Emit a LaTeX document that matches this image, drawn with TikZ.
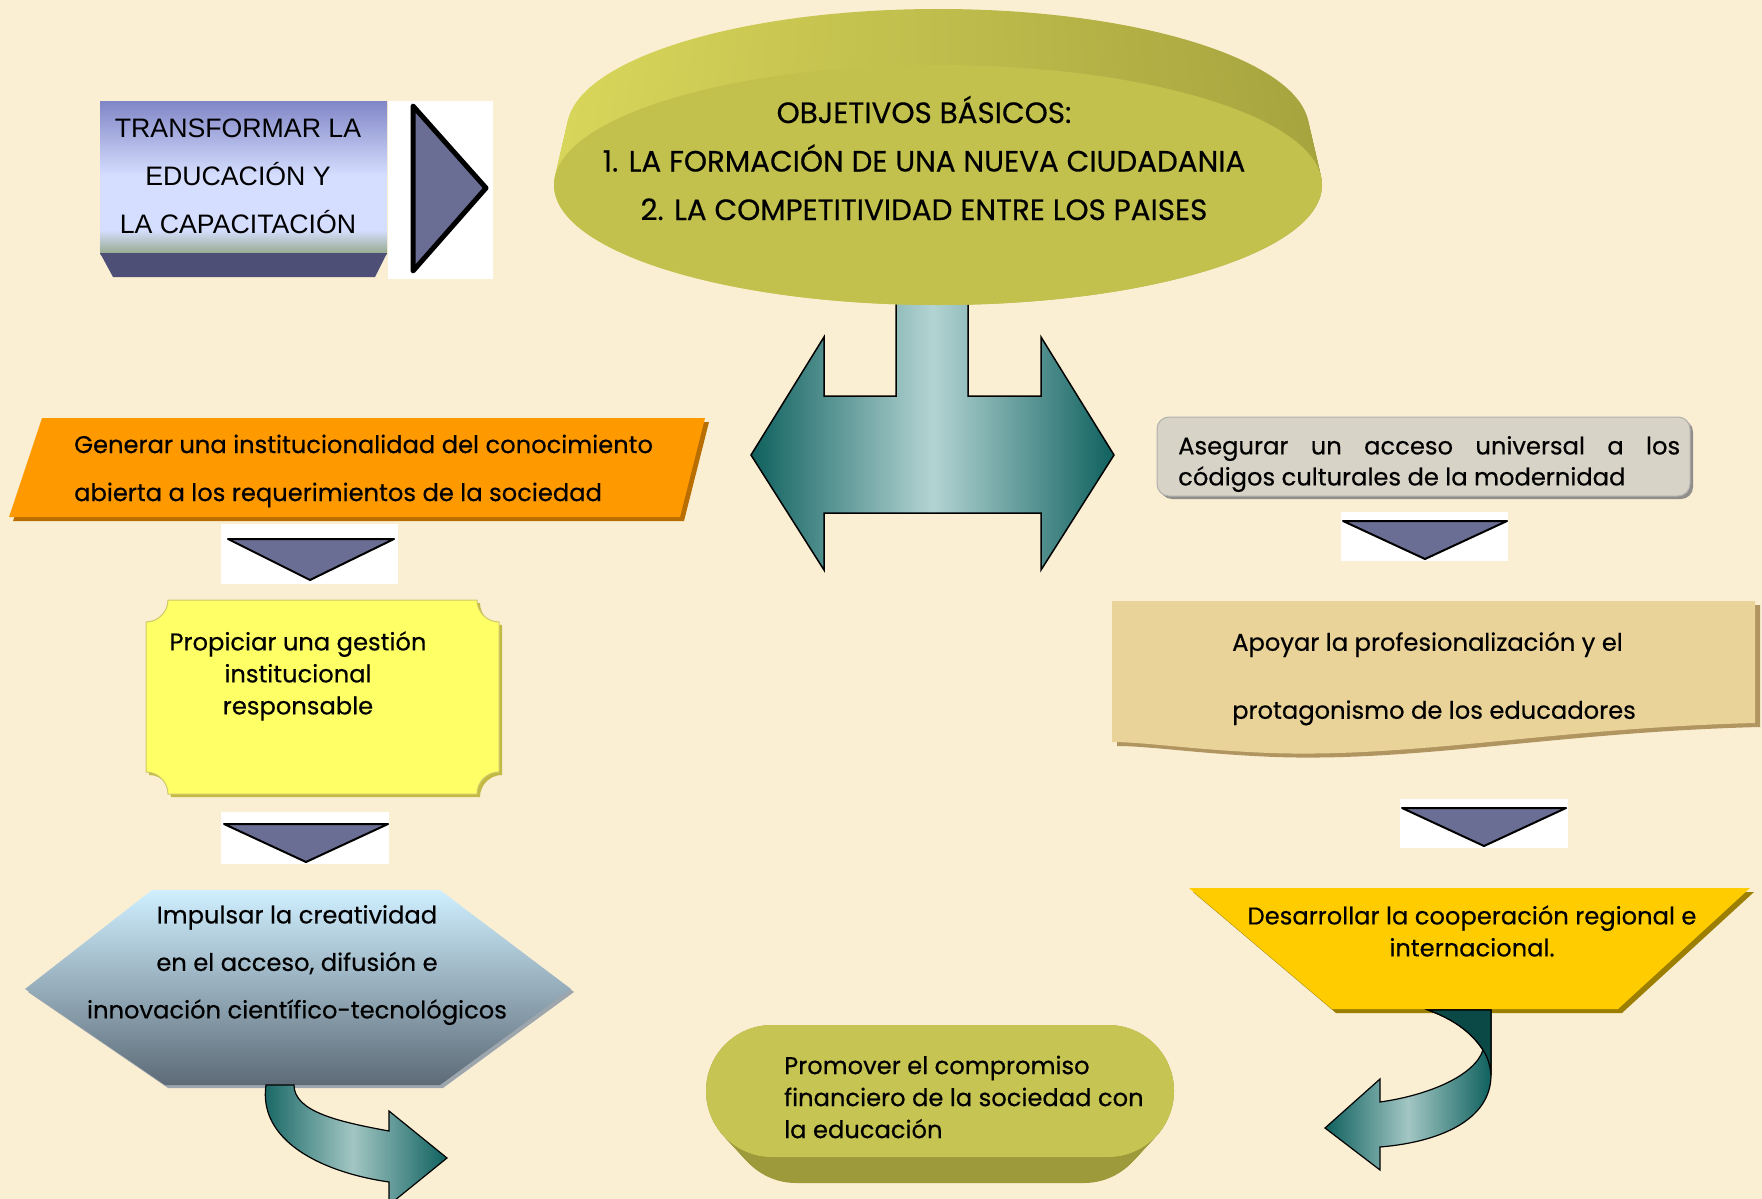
\documentclass[tikz,border=0pt]{standalone}
\usepackage{fontspec}
\setmainfont{Liberation Sans}
\newfontfamily\comic{Poppins}[FakeBold=0.4]
\usetikzlibrary{calc}
\definecolor{bg}{HTML}{FBEFD3}
\definecolor{olface}{HTML}{C3C14E}
\definecolor{olside}{HTML}{A6A43E}
\definecolor{olsidel}{HTML}{D8D65A}
\definecolor{orangef}{HTML}{FF9900}
\definecolor{orangesh}{HTML}{B86E00}
\definecolor{yelf}{HTML}{FFFF66}
\definecolor{yelsh}{HTML}{C2BA45}
\definecolor{grayf}{HTML}{D7D3C7}
\definecolor{graysh}{HTML}{8F8E8A}
\definecolor{papf}{HTML}{E9D398}
\definecolor{papsh}{HTML}{B09560}
\definecolor{goldf}{HTML}{FFCC00}
\definecolor{goldsh}{HTML}{9C7E00}
\definecolor{tealdark}{HTML}{0F615F}
\definecolor{teallight}{HTML}{B3D4D3}
\definecolor{tealmid}{HTML}{A2C6C3}
\definecolor{trif}{HTML}{6B6E94}
\definecolor{hextop}{HTML}{CFEFFF}
\definecolor{hexmid}{HTML}{97AFC0}
\definecolor{hexbot}{HTML}{5D6B77}
\definecolor{pillf}{HTML}{C6C452}
\definecolor{pillsh}{HTML}{9C9A3A}
\definecolor{bluetop}{HTML}{8186C6}
\definecolor{bluemid}{HTML}{D5DEFF}
\definecolor{bluebot}{HTML}{95A98B}
\definecolor{blueband}{HTML}{4E4F77}
\tikzset{
  comictext/.style={font=\comic\fontsize{24.2}{#1}\selectfont, inner sep=0pt},
  downtri/.style={fill=trif, draw=black, line width=2pt, line join=round},
  tealshade/.style={draw=black, line width=1.2pt, left color=tealdark, right color=tealdark, middle color=tealmid},
}
\begin{document}
\begin{tikzpicture}[x=1pt,y=-1pt]
\useasboundingbox (0,0) rectangle (1762,1199);
\clip (0,0) rectangle (1762,1199);
\fill[bg] (0,0) rectangle (1762,1199);

% ---- blue box TRANSFORMAR
\shade[top color=bluetop, bottom color=bluemid] (100,101) rectangle (387,176);
\fill[bluemid] (100,175) rectangle (387,231);
\shade[top color=bluemid, bottom color=bluebot] (100,230) rectangle (387,254);
\fill[blueband] (100,253) -- (387,253) -- (375,277) -- (113,277) -- cycle;
\node[font=\fontsize{26.7}{48}\selectfont, align=center, inner sep=0pt] (transf) at (238,176) {TRANSFORMAR LA\\EDUCACIÓN Y\\LA CAPACITACIÓN};
\fill[white] (388,101) rectangle (493,279);
\node[coordinate] (rtA) at (413,106) {};
\node[coordinate] (rtB) at (413,271) {};
\node[coordinate] (rtC) at (486,188) {};
\filldraw[fill=trif, draw=black, line width=5pt, line join=round] (rtA) -- (rtC) -- (rtB) -- cycle;

% ---- teal double arrow
\path[draw=black, line width=1.5pt, left color=tealdark, right color=tealdark, middle color=teallight]
  (751,455) -- (824,337) -- (824,396) -- (896,396) -- (896,290) -- (968,290) -- (968,396)
  -- (1041,396) -- (1041,337) -- (1114,455) -- (1041,570) -- (1041,513) -- (824,513) -- (824,570) -- cycle;

% ---- top disk
\foreach \t in {0,...,24}{
  \shade[left color=olsidel, right color=olside]
    (938,{129+\t*56/24}) ellipse [x radius={371+\t*13/24}, y radius=120];
}
\fill[olface] (938,185) ellipse [x radius=384, y radius=120];
\node[font=\comic\fontsize{29.4}{48.5}\selectfont, align=center, inner sep=0pt] (obj) at (924,158)
  {OBJETIVOS BÁSICOS:\\1. LA FORMACIÓN DE UNA NUEVA CIUDADANIA\\2. LA COMPETITIVIDAD ENTRE LOS PAISES};

% ---- orange parallelogram
\fill[orangesh] (46,422) -- (709,422) -- (684,521) -- (13,521) -- cycle;
\fill[orangef] (42,418) -- (705,418) -- (680,517) -- (9,517) -- cycle;
\node[comictext=48, align=left, anchor=west] (gen) at (74,471)
  {Generar una institucionalidad del conocimiento\\abierta a los requerimientos de la sociedad};

% ---- down triangles
\fill[white] (221,524) rectangle (398,584);
\path[downtri] (228,539) -- (394,539) -- (310,580) -- cycle;
\node[coordinate] (t1) at (310,560) {};
\fill[white] (221,812) rectangle (389,864);
\path[downtri] (224,824) -- (388,824) -- (306,862) -- cycle;
\node[coordinate] (t2) at (306,842) {};
\fill[white] (1341,512) rectangle (1508,561);
\path[downtri] (1343,521) -- (1507,521) -- (1425,559) -- cycle;
\node[coordinate] (t3) at (1425,540) {};
\fill[white] (1400,799) rectangle (1568,848);
\path[downtri] (1402,808) -- (1566,808) -- (1484,846) -- cycle;
\node[coordinate] (t4) at (1484,827) {};

% ---- yellow plaque
\def\plaque#1#2{%
  (146+22+#1,600+#2) -- (499-22+#1,600+#2)
  .. controls (499-22+#1,600+12+#2) and (499-12+#1,600+22+#2) .. (499+#1,600+22+#2)
  -- (499+#1,794-22+#2)
  .. controls (499-12+#1,794-22+#2) and (499-22+#1,794-12+#2) .. (499-22+#1,794+#2)
  -- (146+22+#1,794+#2)
  .. controls (146+22+#1,794-12+#2) and (146+12+#1,794-22+#2) .. (146+#1,794-22+#2)
  -- (146+#1,600+22+#2)
  .. controls (146+12+#1,600+22+#2) and (146+22+#1,600+12+#2) .. (146+22+#1,600+#2) -- cycle}
\fill[yelsh] \plaque{3}{3};
\filldraw[fill=yelf, draw=yelsh!80, line width=1pt] \plaque{0}{0};
\node[comictext=32, align=center] (prop) at (298,676)
  {Propiciar una gestión\\institucional\\responsable};

% ---- hexagon
\fill[hexbot!60] (28,992) -- (155,893) -- (443,893) -- (574,992) -- (443,1088) -- (168,1088) -- cycle;
\shade[top color=hextop, middle color=hexmid, bottom color=hexbot]
  (25,989) -- (152,890) -- (440,890) -- (571,989) -- (440,1085) -- (165,1085) -- cycle;
\node[comictext=47.5, align=center] (imp) at (297,965)
  {Impulsar la creatividad\\en el acceso, difusión e\\innovación científico-tecnológicos};

% ---- curved arrow left (hexagon -> pill)
\path[tealshade]
  (266,1085) .. controls (258,1140) and (320,1172) .. (389,1182) -- (389,1205) -- (447,1158)
  -- (389,1111) -- (389,1131) .. controls (340,1122) and (294,1112) .. (294,1085) -- cycle;

% ---- gray box
\fill[graysh, rounded corners=12pt] (1160,420) rectangle (1693,499);
\filldraw[fill=grayf, draw=graysh!70, line width=1pt, rounded corners=12pt] (1157,417) rectangle (1690,496);
\node[comictext=31, align=left, anchor=west] (ase) at (1178,464)
  {\makebox[502pt][s]{Asegurar un acceso universal a los}\\códigos culturales de la modernidad};

% ---- papyrus
\fill[papsh] (1117,605) -- (1760,605) -- (1760,727) .. controls (1560,732) and (1420,762) .. (1275,757)
  .. controls (1200,754) and (1150,746) .. (1117,746) -- cycle;
\fill[papf] (1112,601) -- (1755,601) -- (1755,723) .. controls (1555,728) and (1415,758) .. (1270,753)
  .. controls (1195,750) and (1145,742) .. (1112,742) -- cycle;
\node[comictext=68, align=left, anchor=west] (apo) at (1232,678.5)
  {Apoyar la profesionalización y el\\protagonismo de los educadores};

% ---- gold trapezoid
\fill[goldsh] (1193,892) -- (1754,892) -- (1622,1013) -- (1336,1013) -- cycle;
\fill[goldf] (1189,888) -- (1750,888) -- (1618,1009) -- (1332,1009) -- cycle;
\node[comictext=32, align=center] (des) at (1472,931)
  {Desarrollar la cooperación regional e\\internacional.};

% ---- curved arrow right (trapezoid -> pill)
\path[tealshade]
  (1428,1010) -- (1491,1010) -- (1491,1075) .. controls (1491,1120) and (1440,1142) .. (1380,1147)
  -- (1380,1170) -- (1325,1128) -- (1380,1079) -- (1380,1102)
  .. controls (1430,1095) and (1475,1075) .. (1483,1050)
  .. controls (1470,1030) and (1450,1018) .. (1428,1010) -- cycle;
\filldraw[fill=tealdark!75!black, draw=black, line width=1.2pt]
  (1428,1010) -- (1491,1010) -- (1491,1075) .. controls (1490,1065) and (1488,1058) .. (1483,1050)
  .. controls (1470,1030) and (1450,1018) .. (1428,1010) -- cycle;

% ---- pill
\foreach \t in {0,...,16}{
  \fill[pillsh, rounded corners=66pt] ({706+\t*24/16},{1025+\t*26/16}) rectangle ({1174-\t*24/16},{1157+\t*26/16});
}
\fill[pillf, rounded corners=66pt] (706,1025) rectangle (1174,1157);
\node[comictext=32, align=left, anchor=west] (pro) at (784,1097)
  {Promover el compromiso\\financiero de la sociedad con\\la educación};

\end{tikzpicture}
\end{document}
